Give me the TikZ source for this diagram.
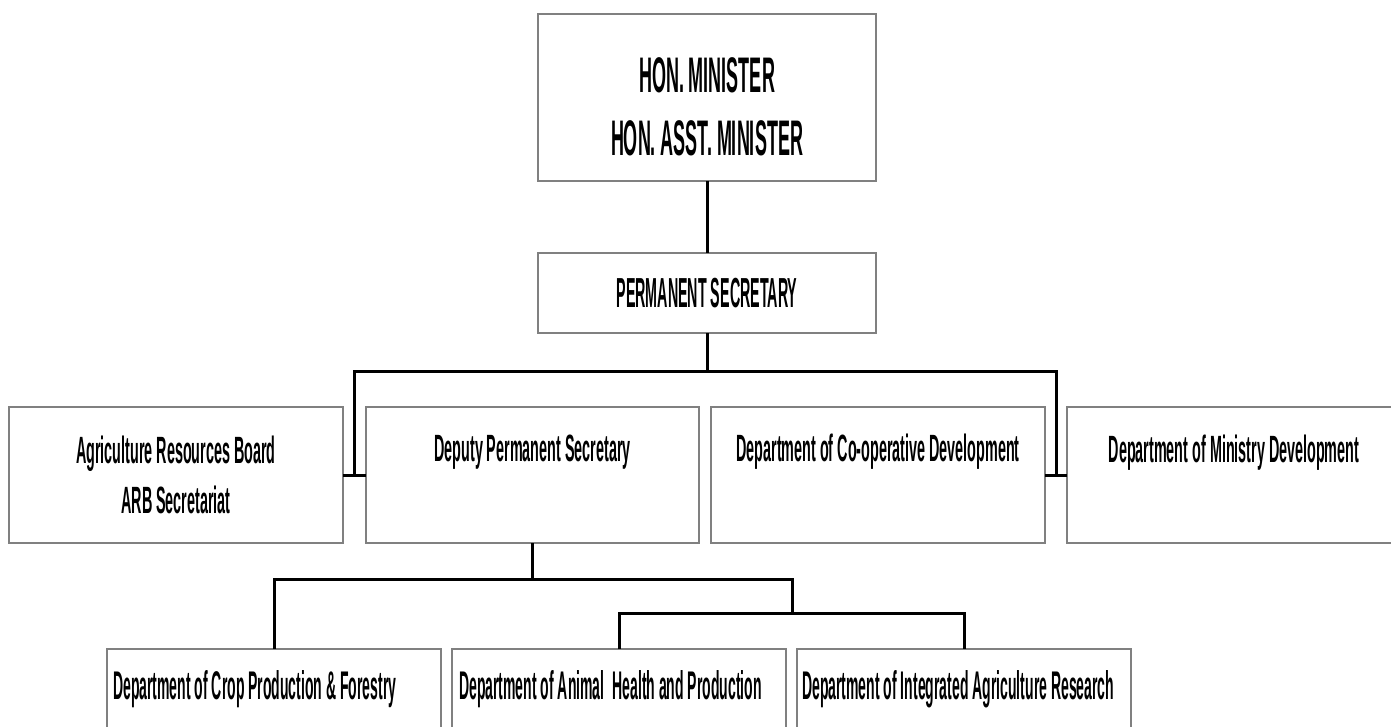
\documentclass[tikz,border=0pt]{standalone}
\usepackage{fontspec}
\newfontfamily\topfont[FakeStretch=0.36]{Liberation Sans}
\newfontfamily\psfont[FakeStretch=0.34]{Liberation Sans}
\newfontfamily\deptfont[FakeStretch=0.378]{Liberation Sans}
\newfontfamily\lowfont[FakeStretch=0.35]{Liberation Sans}
\usepackage{tikz}
\usetikzlibrary{positioning,calc}
\definecolor{boxgray}{RGB}{128,128,128}

\tikzset{
  unit/.style={rectangle, draw=boxgray, line width=2.5pt, outer sep=0pt, inner sep=0pt,
               minimum width=334pt, minimum height=136pt},
  link/.style={draw=black, line width=3pt},
  toptxt/.style={font={\topfont\bfseries\fontsize{50}{63}\selectfont}, align=center, inner sep=0pt},
  pstxt/.style={font={\psfont\bfseries\fontsize{42}{45}\selectfont}},
  midtxt/.style={font={\deptfont\bfseries\fontsize{38}{50}\selectfont}, align=center, inner sep=0pt},
  lowtxt/.style={font={\lowfont\bfseries\fontsize{40}{44}\selectfont}, inner sep=0pt}
}

\begin{document}
\begin{tikzpicture}[x=1pt, y=1pt]
    \useasboundingbox (0,0) rectangle (1391,-727);
    \clip (0,0) rectangle (1391,-727);

    % top of the chart
    \node (minister) [unit, minimum width=338pt, minimum height=167pt] at (707,-97.5) {};
    \node (ministertxt) [toptxt] at ([yshift=-9pt]minister.center) {HON. MINISTER\\HON. ASST. MINISTER};
    \node (secretary) [unit, pstxt, below=72pt of minister, minimum width=338pt, minimum height=80pt] {PERMANENT SECRETARY};

    % second row
    \node (arb) [unit, midtxt] at (176,-475) {Agriculture Resources Board\\ARB Secretariat};
    \node (deputy) [unit, right=23pt of arb, minimum width=333pt] {};
    \node (coop) [unit, right=12pt of deputy] {};
    \node (ministry) [unit, right=22pt of coop] {};
    \node (deputytxt) [midtxt, anchor=base] at ([yshift=-54pt]deputy.north) {Deputy Permanent Secretary};
    \node (cooptxt) [midtxt, anchor=base] at ([yshift=-54pt]coop.north) {Department of Co-operative Development};
    \node (ministrytxt) [midtxt, anchor=base] at ([yshift=-55pt]ministry.north) {Department of Ministry Development};

    % third row
    \node (crop) [unit, minimum height=90pt] at (274,-694) {};
    \node (animal) [unit, right=11pt of crop, minimum height=90pt] {};
    \node (integrated) [unit, right=11pt of animal, minimum height=90pt] {};
    \node (croptxt) [lowtxt, anchor=base west] at ([shift={(6pt,-50pt)}]crop.north west) {Department of Crop Production \& Forestry};
    \node (animaltxt) [lowtxt, anchor=base west] at ([shift={(7pt,-50pt)}]animal.north west) {Department of Animal\ \ Health and Production};
    \node (integratedtxt) [lowtxt, anchor=base west] at ([shift={(5pt,-50pt)}]integrated.north west) {Department of Integrated Agriculture Research};

    \coordinate (lmid) at ($(arb.east)!.5!(deputy.west)$);
    \coordinate (rmid) at ($(coop.east)!.5!(ministry.west)$);
    \coordinate (split) at (792,-613);

    \draw [link] (minister) -- (secretary);
    \draw [link] (secretary.south) -- ++(0,-38pt) coordinate (bus);
    \draw [link] (lmid) -- (lmid |- bus) -- (rmid |- bus) -- (rmid);
    \draw [link] (arb.east) -- (deputy.west);
    \draw [link] (coop.east) -- (ministry.west);

    \draw [link] (deputy.south) -- ++(0,-36pt) coordinate (djoin);
    \draw [link] (crop.north) |- (djoin) -| (split);
    \draw [link] (animal.north) |- (split) -| (integrated.north);
\end{tikzpicture}
\end{document}
